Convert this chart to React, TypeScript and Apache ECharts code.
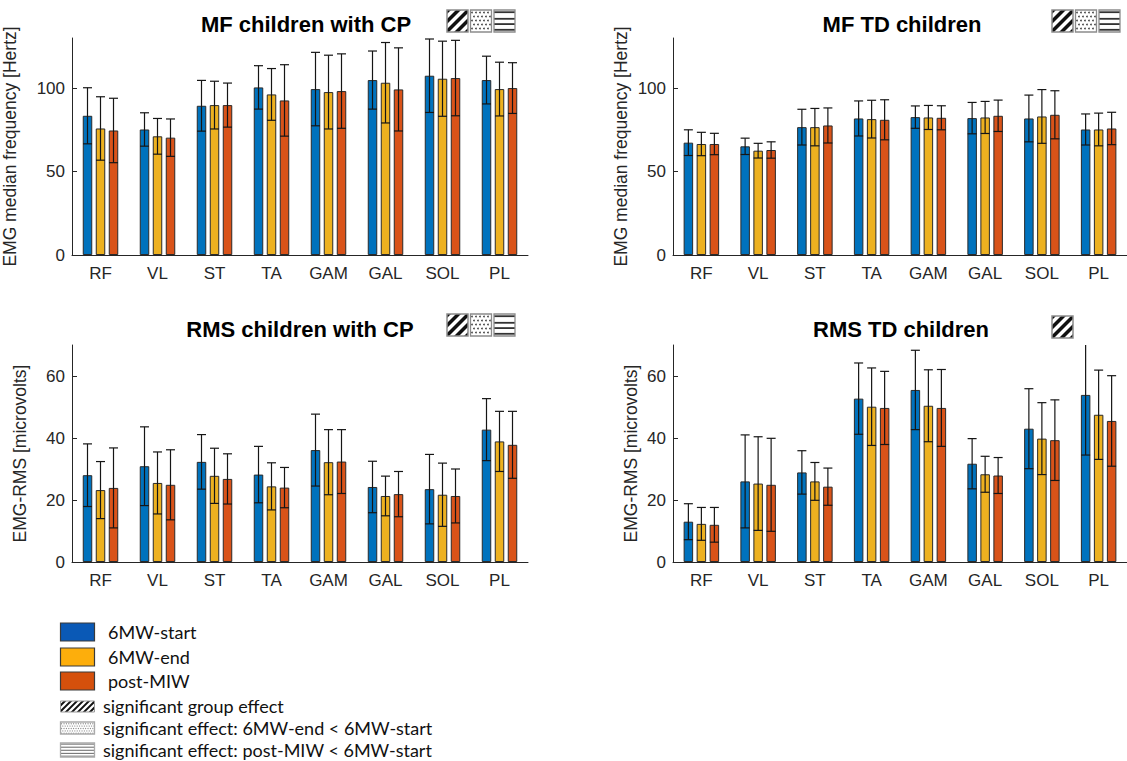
import React, { useEffect, useRef } from "react";
import * as echarts from "echarts";

const categories = ["RF", "VL", "ST", "TA", "GAM", "GAL", "SOL", "PL"];
const seriesNames = ["6MW-start", "6MW-end", "post-MIW"];

// MF children with CP (Hz)
const mfCpStart = [83.4, 75.2, 89.4, 100.4, 99.4, 104.8, 107.4, 104.8];
const mfCpEnd = [75.8, 71.1, 89.8, 96.2, 97.6, 103.2, 105.6, 99.4];
const mfCpPost = [74.6, 70.3, 89.8, 92.6, 98.2, 99.2, 106.0, 100.0];
const mfCpStartSd = [16.8, 10.0, 15.2, 13.0, 22.0, 17.4, 22.0, 14.3];
const mfCpEndSd = [19.0, 10.7, 14.3, 15.5, 22.1, 24.1, 22.5, 16.1];
const mfCpPostSd = [19.3, 11.2, 13.2, 21.4, 22.3, 24.9, 22.6, 15.2];

// MF TD children (Hz)
const mfTdStart = [67.3, 65.1, 76.6, 81.8, 82.6, 82.0, 81.8, 75.2];
const mfTdEnd = [66.5, 62.5, 76.6, 81.4, 82.4, 82.4, 83.0, 75.2];
const mfTdPost = [66.5, 62.9, 77.6, 81.0, 82.2, 83.4, 84.0, 75.8];
const mfTdStartSd = [7.7, 4.9, 10.7, 10.5, 6.7, 9.4, 14.0, 9.3];
const mfTdEndSd = [7.0, 4.4, 11.2, 11.3, 7.2, 9.6, 16.1, 9.8];
const mfTdPostSd = [6.4, 4.9, 10.5, 12.0, 7.2, 9.4, 14.4, 9.7];

// RMS children with CP (microvolts)
const rmsCpStart = [28.0, 30.9, 32.3, 28.2, 36.1, 24.2, 23.5, 42.7];
const rmsCpEnd = [23.2, 25.5, 27.8, 24.4, 32.2, 21.3, 21.7, 38.9];
const rmsCpPost = [23.9, 24.9, 26.8, 24.0, 32.4, 21.9, 21.3, 37.8];
const rmsCpStartSd = [10.1, 12.7, 8.8, 9.1, 11.6, 8.3, 11.2, 10.0];
const rmsCpEndSd = [9.2, 10.0, 8.9, 7.6, 10.5, 6.4, 10.2, 9.7];
const rmsCpPostSd = [12.9, 11.3, 8.1, 6.5, 10.3, 7.3, 8.7, 10.8];

// RMS TD children (microvolts)
const rmsTdStart = [13.0, 26.0, 28.9, 52.7, 55.5, 31.7, 43.0, 53.9];
const rmsTdEnd = [12.3, 25.3, 26.0, 50.1, 50.4, 28.3, 39.8, 47.5];
const rmsTdPost = [12.0, 24.9, 24.3, 49.7, 49.7, 27.9, 39.3, 45.5];
const rmsTdStartSd = [5.8, 15.0, 7.0, 11.5, 12.8, 8.1, 12.9, 19.4];
const rmsTdEndSd = [5.3, 15.1, 6.1, 12.5, 11.6, 5.8, 11.6, 14.4];
const rmsTdPostSd = [5.6, 15.0, 6.0, 11.8, 12.4, 5.8, 13.0, 14.6];

const panelTitles = ["MF children with CP", "MF TD children", "RMS children with CP", "RMS TD children"];
const yNames = ["EMG median frequency [Hertz]", "EMG median frequency [Hertz]", "EMG-RMS [microvolts]", "EMG-RMS [microvolts]"];
const mfTicks = [0, 50, 100];
const rmsTicks = [0, 20, 40, 60];
const panelMarkers = [["hatch", "dots", "lines"], ["hatch", "dots", "lines"], ["hatch", "dots", "lines"], ["hatch"]];
const legendPatternLabels = [
  "significant group effect",
  "significant effect: 6MW-end < 6MW-start",
  "significant effect: post-MIW < 6MW-start",
];

const panels = [
  { means: [mfCpStart, mfCpEnd, mfCpPost], sds: [mfCpStartSd, mfCpEndSd, mfCpPostSd], max: 130, ticks: mfTicks },
  { means: [mfTdStart, mfTdEnd, mfTdPost], sds: [mfTdStartSd, mfTdEndSd, mfTdPostSd], max: 130, ticks: mfTicks },
  { means: [rmsCpStart, rmsCpEnd, rmsCpPost], sds: [rmsCpStartSd, rmsCpEndSd, rmsCpPostSd], max: 70, ticks: rmsTicks },
  { means: [rmsTdStart, rmsTdEnd, rmsTdPost], sds: [rmsTdStartSd, rmsTdEndSd, rmsTdPostSd], max: 70, ticks: rmsTicks },
];

const BAR_COLORS = ["#0072BD", "#EDB120", "#D95319"];
const LEGEND_COLORS = ["#0a59b6", "#fdae0c", "#d5500c"];
const AX = "#262626";
const FONT = "'Liberation Sans', Arial, Helvetica, sans-serif";
const LFONT = "Lato, 'Open Sans', sans-serif";

const grids = [
  { left: 72, top: 38, width: 456, height: 217 },
  { left: 673, top: 38, width: 460, height: 217 },
  { left: 72, top: 345, width: 456, height: 217 },
  { left: 673, top: 345, width: 460, height: 217 },
];
const nameGaps = [53, 43, 43, 33];
const titlePos = [
  [306, 24],
  [902, 24],
  [300, 329],
  [901, 329],
];
const markerPos = [
  [447, 10],
  [1052, 10],
  [447, 314],
  [1052, 316],
];

const BAR_W = 9.5;
const BAR_STEP = 13;

function clipHalf(poly: number[][], f: (p: number[]) => number) {
  const out: number[][] = [];
  for (let i = 0; i < poly.length; i++) {
    const a = poly[i];
    const b = poly[(i + 1) % poly.length];
    const fa = f(a);
    const fb = f(b);
    if (fa >= 0) out.push(a);
    if (fa >= 0 !== fb >= 0) {
      const t = fa / (fa - fb);
      out.push([a[0] + t * (b[0] - a[0]), a[1] + t * (b[1] - a[1])]);
    }
  }
  return out;
}

function hatchIcon(x: number, y: number, w: number, h: number, period: number, bw: number, border: string, bwBorder: number) {
  const els: any[] = [];
  els.push({ type: "rect", shape: { x, y, width: w, height: h }, style: { fill: "#fff" } });
  const mid = (w + h) / 2;
  const n = Math.ceil((w + h) / period) + 1;
  for (let k = -n; k <= n; k++) {
    const c = mid + k * period;
    let poly = [
      [0, 0],
      [w, 0],
      [w, h],
      [0, h],
    ];
    poly = clipHalf(poly, (p) => p[0] + p[1] - (c - bw / 2));
    if (poly.length < 3) continue;
    poly = clipHalf(poly, (p) => c + bw / 2 - (p[0] + p[1]));
    if (poly.length < 3) continue;
    els.push({ type: "polygon", shape: { points: poly.map((p) => [p[0] + x, p[1] + y]) }, style: { fill: "#111" } });
  }
  els.push({ type: "rect", shape: { x, y, width: w, height: h }, style: { fill: "none", stroke: border, lineWidth: bwBorder } });
  return els;
}

function dotsIcon(x: number, y: number, w: number, h: number, sp: number, r: number, color: string, border: string) {
  const els: any[] = [];
  els.push({ type: "rect", shape: { x, y, width: w, height: h }, style: { fill: "#fff" } });
  let row = 0;
  for (let yy = sp / 2 + 0.5; yy < h - 0.5; yy += sp) {
    const off = row % 2 === 0 ? sp / 4 : (3 * sp) / 4;
    for (let xx = off + 0.5; xx < w - 0.5; xx += sp) {
      els.push({ type: "circle", shape: { cx: x + xx, cy: y + yy, r }, style: { fill: color } });
    }
    row++;
  }
  els.push({ type: "rect", shape: { x, y, width: w, height: h }, style: { fill: "none", stroke: border, lineWidth: 1.3 } });
  return els;
}

function linesIcon(x: number, y: number, w: number, h: number, fracs: number[], color: string, lw: number, border: string) {
  const els: any[] = [];
  els.push({ type: "rect", shape: { x, y, width: w, height: h }, style: { fill: "#fff" } });
  fracs.forEach((f) => {
    els.push({ type: "line", shape: { x1: x, y1: y + f * h, x2: x + w, y2: y + f * h }, style: { stroke: color, lineWidth: lw } });
  });
  els.push({ type: "rect", shape: { x, y, width: w, height: h }, style: { fill: "none", stroke: border, lineWidth: 1.3 } });
  return els;
}

function panelMarker(kind: string, x: number, y: number) {
  const w = 21;
  const h = 22;
  if (kind === "hatch") return hatchIcon(x, y, w, h, 10, 5, "#8c8c8c", 1.5);
  if (kind === "dots") return dotsIcon(x, y, w, h, 4, 0.8, "#333", "#8c8c8c");
  return linesIcon(x, y, w, h, [0.1, 0.4, 0.64, 0.9], "#333", 1.8, "#8c8c8c");
}

function buildOption() {
  const graphic: any[] = [];
  panelTitles.forEach((t, i) => {
    graphic.push({
      type: "text",
      x: titlePos[i][0],
      y: titlePos[i][1],
      style: { text: t, fontFamily: FONT, fontSize: 22, fontWeight: "bold", fill: "#000", align: "center", verticalAlign: "middle" },
    });
  });
  panelMarkers.forEach((kinds, i) => {
    kinds.forEach((k, j) => {
      graphic.push(...panelMarker(k, markerPos[i][0] + j * 23.5, markerPos[i][1]));
    });
  });
  // legend: colored boxes
  const boxY = [623, 648, 672];
  seriesNames.forEach((n, i) => {
    graphic.push({
      type: "rect",
      shape: { x: 60.5, y: boxY[i], width: 34, height: 18 },
      style: { fill: LEGEND_COLORS[i], stroke: "#3a3a3a", lineWidth: 1.2 },
    });
    graphic.push({
      type: "text",
      x: 108,
      y: boxY[i] + 9,
      style: { text: n, fontFamily: LFONT, fontSize: 18, fill: "#111", align: "left", verticalAlign: "middle" },
    });
  });
  // legend: patterns
  const patY = [701, 722, 743];
  graphic.push(...hatchIcon(60.5, patY[0], 34, 11, 6, 2.8, "#999", 1));
  graphic.push(...dotsIcon(60.5, patY[1], 34, 12, 2.4, 0.6, "#8a8a8a", "#aaa"));
  graphic.push(...linesIcon(60.5, patY[2], 34, 14, [0.08, 0.3, 0.52, 0.74, 0.94], "#666", 1, "#aaa"));
  legendPatternLabels.forEach((t, i) => {
    graphic.push({
      type: "text",
      x: 103,
      y: [706, 728, 750][i],
      style: { text: t, fontFamily: LFONT, fontSize: 18, fill: "#111", align: "left", verticalAlign: "middle" },
    });
  });

  const xAxis = grids.map((_, i) => ({
    type: "category",
    gridIndex: i,
    data: categories,
    boundaryGap: true,
    axisLine: { lineStyle: { color: AX, width: 1 } },
    axisTick: { inside: true, alignWithLabel: true, length: 5, lineStyle: { color: AX } },
    axisLabel: { color: AX, fontFamily: FONT, fontSize: 17, margin: 10 },
  }));
  const yAxis = grids.map((_, i) => ({
    type: "value",
    gridIndex: i,
    min: 0,
    max: panels[i].max,
    name: yNames[i],
    nameLocation: "middle",
    nameGap: nameGaps[i],
    nameTextStyle: { color: AX, fontFamily: FONT, fontSize: 17.5 },
    axisLine: { show: true, lineStyle: { color: AX, width: 1 } },
    axisTick: { show: true, inside: true, length: 5, lineStyle: { color: AX }, customValues: panels[i].ticks },
    axisLabel: { color: AX, fontFamily: FONT, fontSize: 17, margin: 7, customValues: panels[i].ticks },
    splitLine: { show: false },
  }));

  const series: any[] = [];
  panels.forEach((p, gi) => {
    p.means.forEach((vals, si) => {
      series.push({
        type: "bar",
        name: seriesNames[si],
        xAxisIndex: gi,
        yAxisIndex: gi,
        data: vals,
        barWidth: BAR_W,
        barGap: ((BAR_STEP - BAR_W) / BAR_W) * 100 + "%",
        itemStyle: { color: BAR_COLORS[si], borderColor: "#2a2a2a", borderWidth: 1 },
        z: 2,
      });
    });
    p.means.forEach((vals, si) => {
      const offset = (si - 1) * BAR_STEP;
      series.push({
        type: "custom",
        xAxisIndex: gi,
        yAxisIndex: gi,
        clip: true,
        z: 5,
        data: vals.map((m, k) => [k, m, p.sds[si][k]]),
        renderItem: (params: any, api: any) => {
          const idx = api.value(0);
          const m = api.value(1);
          const sd = api.value(2);
          const top = api.coord([idx, m + sd]);
          const bot = api.coord([idx, m - sd]);
          const x = top[0] + offset;
          const cap = 4.5;
          const style = { stroke: "#151515", lineWidth: 1.2 };
          return {
            type: "group",
            children: [
              { type: "line", shape: { x1: x, y1: top[1], x2: x, y2: bot[1] }, style },
              { type: "line", shape: { x1: x - cap, y1: top[1], x2: x + cap, y2: top[1] }, style },
              { type: "line", shape: { x1: x - cap, y1: bot[1], x2: x + cap, y2: bot[1] }, style },
            ],
          };
        },
      });
    });
  });

  return {
    animation: false,
    backgroundColor: "#fff",
    grid: grids.map((g) => ({ ...g, containLabel: false })),
    xAxis,
    yAxis,
    series,
    graphic: { elements: graphic.map((e) => ({ ...e, silent: true })) },
  };
}

export default function App() {
  const ref = useRef<HTMLDivElement>(null);
  useEffect(() => {
    if (!ref.current) return;
    const chart = echarts.init(ref.current, undefined, { renderer: "svg" });
    chart.setOption(buildOption() as any);
    return () => chart.dispose();
  }, []);
  return <div ref={ref} style={{ position: "absolute", left: 0, top: 0, width: 1127, height: 761, background: "#fff" }} />;
}
